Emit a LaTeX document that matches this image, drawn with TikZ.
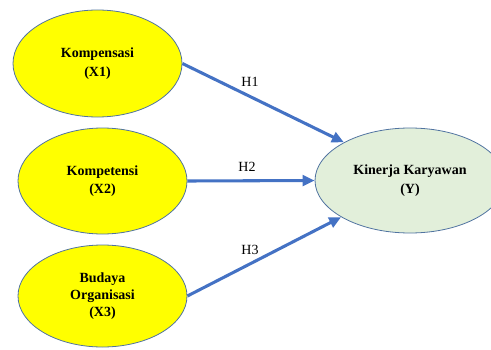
\documentclass[tikz,border=0pt]{standalone}
\usepackage{fontspec}
\setmainfont{Liberation Serif}
\usetikzlibrary{shapes.geometric,arrows.meta}
\definecolor{yel}{RGB}{255,255,0}
\definecolor{lgreen}{RGB}{226,239,218}
\definecolor{edge}{RGB}{80,115,160}
\definecolor{arrowblue}{RGB}{68,114,196}
\tikzset{
  var/.style={ellipse, draw=edge, line width=0.6pt, inner sep=0pt, align=center,
    font=\fontsize{10.5pt}{14pt}\selectfont\bfseries},
  indep/.style={var, fill=yel},
  dep/.style={var, fill=lgreen},
  link/.style={draw=arrowblue, line width=2.3pt, -{Triangle[length=9pt,width=8pt]}},
  hlabel/.style={font=\fontsize{10.5pt}{12pt}\selectfont, inner sep=0pt}
}
\begin{document}
\begin{tikzpicture}[x=0.75pt,y=-0.75pt]
\useasboundingbox (0,0) rectangle (491,349);
\clip (0,0) rectangle (491,349);
\node[indep, minimum width=126.75pt, minimum height=80.25pt] (x1) at (97.5,63.5) {Kompensasi\\(X1)};
\node[indep, minimum width=126.75pt, minimum height=79.5pt] (x2) at (102.5,181) {Kompetensi\\(X2)};
\node[indep, minimum width=126.75pt, minimum height=76.5pt, font=\fontsize{10.5pt}{13pt}\selectfont\bfseries] (x3) at (102.5,296) {Budaya\\Organisasi\\(X3)};
\node[dep, minimum width=142.5pt, minimum height=78.75pt] (y) at (410,180.5) {Kinerja Karyawan\\(Y)};
\draw[link] (x1.east) -- (y.150);
\draw[link] (x2.east) -- (y.west);
\draw[link] (x3.east) -- (y.208);
\node[hlabel] (h1) at (250,82) {H1};
\node[hlabel] (h2) at (247,167) {H2};
\node[hlabel] (h3) at (250,250) {H3};
\end{tikzpicture}
\end{document}
